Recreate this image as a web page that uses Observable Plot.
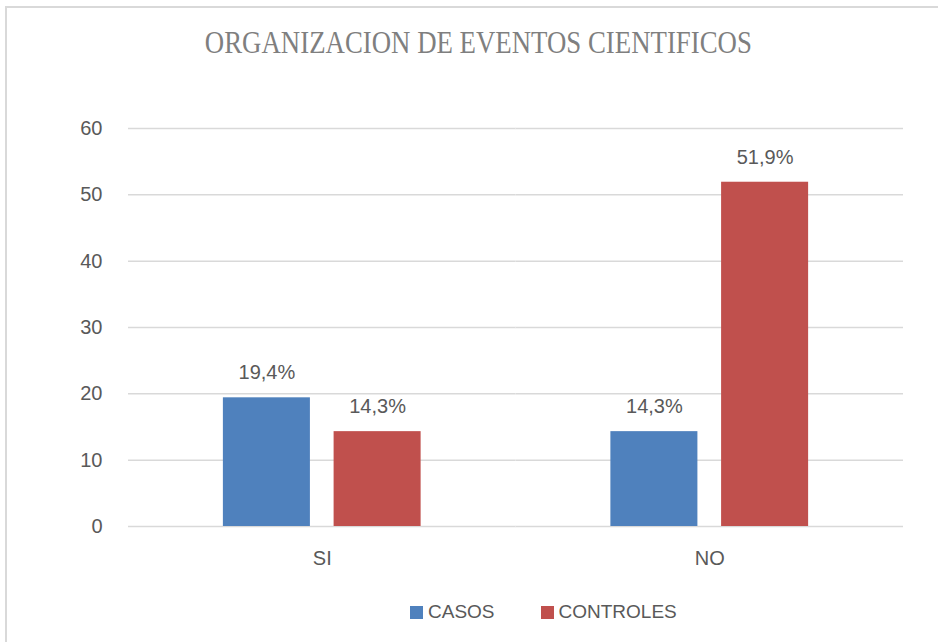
<!DOCTYPE html>
<html>
<head>
<meta charset="utf-8">
<script src="https://cdn.jsdelivr.net/npm/d3@7"></script>
<script src="https://cdn.jsdelivr.net/npm/@observablehq/plot@0.6"></script>
<style>
  html, body { margin: 0; padding: 0; background: #fff; width: 938px; height: 642px; overflow: hidden; }
  #frame { position: absolute; left: 5px; top: 6px; width: 960px; height: 660px; border-left: 2px solid #d9d9d9; border-top: 2px solid #d9d9d9; }
  #title { position: absolute; left: 9px; top: 24px; width: 938px; text-align: center; }
  #title span { display: inline-block; font-family: "Liberation Serif", "DejaVu Serif", serif; font-size: 32px; color: #7f7f7f; white-space: nowrap; transform-origin: center; }
  #chart { position: absolute; left: 0; top: 100px; }
  #legend { position: absolute; left: 410px; top: 601px; display: flex; align-items: center; font-family: "Liberation Sans", Arial, sans-serif; font-size: 19px; color: #595959; }
  #legend .sw { width: 13px; height: 13px; display: inline-block; margin-right: 5px; }
  #legend .item { display: flex; align-items: center; margin-right: 46px; }
</style>
</head>
<body>
<div id="frame"></div>
<div id="title"><span id="titleText">ORGANIZACION DE EVENTOS CIENTIFICOS</span></div>
<div id="chart"></div>
<div id="legend"></div>
<script>
const categories = ["SI", "NO"];
const series = ["CASOS", "CONTROLES"];
const casos = [19.4, 14.3];
const controles = [14.3, 51.9];
const colors = ["#4f81bd", "#c0504d"];
const yTicks = [0, 10, 20, 30, 40, 50, 60];

const data = [];
categories.forEach((c, i) => {
  data.push({cat: c, series: "CASOS", value: casos[i]});
  data.push({cat: c, series: "CONTROLES", value: controles[i]});
});

const fmt = v => v.toFixed(1).replace(".", ",") + "%";

const chart = Plot.plot({
  width: 938,
  height: 480,
  marginLeft: 128,
  marginRight: 35,
  marginTop: 28,
  marginBottom: 54,
  style: { fontFamily: "'Liberation Sans', Arial, sans-serif", fontSize: "20px", color: "#595959", background: "transparent" },
  fx: { domain: categories, padding: 0, label: null, round: false },
  x: { domain: series, paddingInner: 0.214, paddingOuter: 0.857, axis: null, round: false },
  y: { domain: [0, 60], ticks: yTicks, label: null },
  color: { domain: series, range: colors },
  marks: [
    Plot.ruleY(yTicks, { stroke: "#d9d9d9", strokeWidth: 1.5 }),
    Plot.barY(data, { fx: "cat", x: "series", y: "value", fill: "series", inset: 0 }),
    Plot.text(data, { fx: "cat", x: "series", y: "value", text: d => fmt(d.value), dy: -25, fill: "#595959", fontSize: 20 }),
    Plot.axisY(yTicks, { tickSize: 0, tickPadding: 26, tickFormat: d => String(d), fontSize: 20, fill: "#595959", label: null }),
    Plot.axisFx({ anchor: "bottom", tickSize: 0, tickPadding: 24, fontSize: 20, fill: "#595959", label: null })
  ]
});
document.getElementById("chart").appendChild(chart);

// legend
const legend = document.getElementById("legend");
series.forEach((s, i) => {
  const item = document.createElement("div");
  item.className = "item";
  const sw = document.createElement("span");
  sw.className = "sw";
  sw.style.background = colors[i];
  const t = document.createElement("span");
  t.textContent = s;
  item.appendChild(sw);
  item.appendChild(t);
  legend.appendChild(item);
});

// condense title to reference width
const tt = document.getElementById("titleText");
const w = tt.getBoundingClientRect().width;
tt.style.transform = `scaleX(${547 / w})`;
</script>
</body>
</html>
